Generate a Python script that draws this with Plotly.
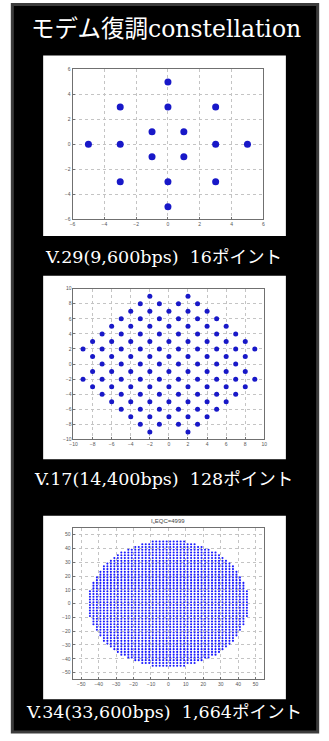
import plotly.graph_objects as go

W, H = 329, 741

# ---------------- data ----------------
TITLE = "モデム復調constellation"
CAPTIONS = ["V.29(9,600bps)  16ポイント",
            "V.17(14,400bps)  128ポイント",
            "V.34(33,600bps)  1,664ポイント"]
SUBTITLE3 = "I<sub>s</sub>EQC=4999"

# V.29 16-point constellation
V29_I = [0, -3, 0, 3, -1, 1, -5, -3, 3, 5, -1, 1, -3, 0, 3, 0]
V29_Q = [5, 3, 3, 3, 1, 1, 0, 0, 0, 0, -1, -1, -3, -3, -3, -5]

# V.17 128-point constellation, row by row
V17_ROW_Q = [9, 8, 7, 6, 5, 4, 3, 2, 1, 0, -1, -2, -3, -4, -5, -6, -7, -8, -9]
V17_ROW_I = [
    [-2, 2],
    [-3, -1, 1, 3],
    [-4, -2, 0, 2, 4],
    [-5, -3, -1, 1, 3, 5],
    [-6, -4, -2, 0, 2, 4, 6],
    [-7, -5, -3, -1, 1, 3, 5, 7],
    [-8, -6, -4, -2, 0, 2, 4, 6, 8],
    [-9, -7, -5, -3, -1, 1, 3, 5, 7, 9],
    [-8, -6, -4, -2, 0, 2, 4, 6, 8],
    [-7, -5, -3, -1, 1, 3, 5, 7],
    [-8, -6, -4, -2, 0, 2, 4, 6, 8],
    [-9, -7, -5, -3, -1, 1, 3, 5, 7, 9],
    [-8, -6, -4, -2, 0, 2, 4, 6, 8],
    [-7, -5, -3, -1, 1, 3, 5, 7],
    [-6, -4, -2, 0, 2, 4, 6],
    [-5, -3, -1, 1, 3, 5],
    [-4, -2, 0, 2, 4],
    [-3, -1, 1, 3],
    [-2, 2],
]

# V.34 1664-point constellation: odd-coordinate rows and their outermost odd I value
V34_ROW_Q = [45, 43, 41, 39, 37, 35, 33, 31, 29, 27, 25, 23, 21, 19, 17, 15, 13, 11, 9, 7, 5, 3, 1,
             -1, -3, -5, -7, -9, -11, -13, -15, -17, -19, -21, -23, -25, -27, -29, -31, -33, -35,
             -37, -39, -41, -43, -45]
V34_ROW_IMAX = [9, 15, 19, 23, 27, 29, 31, 33, 35, 37, 37, 39, 39, 41, 41, 43, 43, 43, 45, 45, 45, 45, 45,
                45, 45, 45, 45, 45, 43, 43, 43, 41, 41, 39, 39, 37, 37, 35, 33, 31, 29,
                27, 23, 19, 15, 9]

V29_TICKS = [-6, -4, -2, 0, 2, 4, 6]
V17_TICKS = [-10, -8, -6, -4, -2, 0, 2, 4, 6, 8, 10]
V34_TICKS = [-50, -40, -30, -20, -10, 0, 10, 20, 30, 40, 50]

# ---------------- build points ----------------
v17_i, v17_q = [], []
for q, row in zip(V17_ROW_Q, V17_ROW_I):
    for i in row:
        v17_i.append(i)
        v17_q.append(q)

v34_i, v34_q = [], []
for q, imax in zip(V34_ROW_Q, V34_ROW_IMAX):
    for i in range(-imax, imax + 1, 2):
        v34_i.append(i)
        v34_q.append(q)

def px_x(x):
    return x / W

def px_y(y):
    return 1 - y / H

fig = go.Figure()
fig.add_trace(go.Scatter(x=V29_I, y=V29_Q, mode="markers", xaxis="x", yaxis="y",
                         marker=dict(size=7, color="#1818c8"), showlegend=False))
fig.add_trace(go.Scatter(x=v17_i, y=v17_q, mode="markers", xaxis="x2", yaxis="y2",
                         marker=dict(size=5, color="#1818c8"), showlegend=False))
fig.add_trace(go.Scatter(x=v34_i, y=v34_q, mode="markers", xaxis="x3", yaxis="y3",
                         marker=dict(size=2.1, color="#1a1aff"), showlegend=False))

axis_common = dict(showgrid=True, gridcolor="#c4c4c4", griddash="dot", gridwidth=1,
                   zeroline=False, showline=True, linecolor="#707070", linewidth=1, mirror=True,
                   ticks="inside", ticklen=2, tickcolor="#707070",
                   tickfont=dict(size=5, color="#555555", family="Liberation Sans"),
                   fixedrange=True)

panels = [
    # x0, x1, ytop, ybottom, range, ticks
    (70, 265, 67, 218, [-6, 6], V29_TICKS),
    (71, 266, 288, 440, [-10, 10], V17_TICKS),
    (70, 266, 529, 682, [-55, 55], V34_TICKS),
]
layout_axes = {}
for k, (x0, x1, yt, yb, rng, ticks) in enumerate(panels, start=1):
    sx = "" if k == 1 else str(k)
    layout_axes["xaxis" + sx] = dict(axis_common, domain=[px_x(x0), px_x(x1)], range=rng,
                                     tickvals=ticks, anchor="y" + sx)
    layout_axes["yaxis" + sx] = dict(axis_common, domain=[px_y(yb), px_y(yt)], range=rng,
                                     tickvals=ticks, anchor="x" + sx)

shapes = [
    dict(type="rect", xref="paper", yref="paper", x0=px_x(8.5), x1=px_x(320.5),
         y0=px_y(735), y1=px_y(1.5), fillcolor="#000000", line=dict(color="#3c3c3c", width=3),
         layer="below"),
]
for (yt, yb) in [(53, 235), (275, 460), (517, 702)]:
    shapes.append(dict(type="rect", xref="paper", yref="paper", x0=px_x(40), x1=px_x(288),
                       y0=px_y(yb), y1=px_y(yt), fillcolor="#ffffff", line=dict(width=0),
                       layer="below"))

serif = "DejaVu Serif, Noto Sans CJK JP, serif"
annotations = [
    dict(text=TITLE, x=px_x(166), y=px_y(26), xref="paper", yref="paper",
         showarrow=False, xanchor="center", yanchor="middle",
         font=dict(family=serif, size=23.5, color="#ffffff")),
    dict(text=SUBTITLE3, x=px_x(168), y=px_y(523), xref="paper", yref="paper",
         showarrow=False, xanchor="center", yanchor="middle",
         font=dict(family="Liberation Sans", size=6, color="#444444")),
]
for cap, yc in zip(CAPTIONS, [256, 480, 715]):
    annotations.append(dict(text=cap, x=px_x(163), y=px_y(yc), xref="paper", yref="paper",
                            showarrow=False, xanchor="center", yanchor="middle",
                            font=dict(family=serif, size=17.5, color="#ffffff")))

fig.update_layout(width=W, height=H, margin=dict(l=0, r=0, t=0, b=0),
                  paper_bgcolor="#ffffff", plot_bgcolor="#ffffff",
                  shapes=shapes, annotations=annotations, showlegend=False,
                  **layout_axes)

fig.write_html("out.html", config={"displayModeBar": False})
